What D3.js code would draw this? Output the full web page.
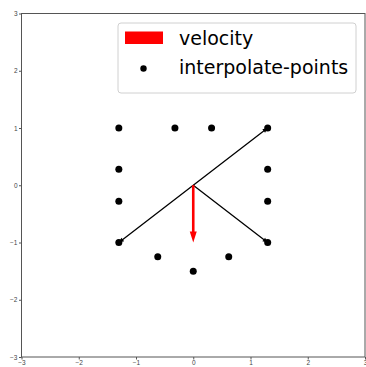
<!DOCTYPE html>
<html>
<head>
<meta charset="utf-8">
<script src="https://cdn.jsdelivr.net/npm/d3@7"></script>
<style>
  body { margin: 0; background: #fff; }
  svg { display: block; font-family: "DejaVu Sans", sans-serif; }
</style>
</head>
<body>
<div id="chart"></div>
<script>
// interpolated points
var pointX = [-1.3, -0.32, 0.32, 1.3, -1.3, 1.3, -1.3, 1.3, -1.3, 1.3, -0.62, 0.62, 0];
var pointY = [1, 1, 1, 1, 0.28, 0.28, -0.28, -0.28, -1, -1, -1.25, -1.25, -1.5];

// black arrows from origin
var arrowX = [-1.3, 1.3, 1.3];
var arrowY = [-1, 1, -1];

// velocity vector
var velocity = [0, -1];

var ticks = [-3, -2, -1, 0, 1, 2, 3];
var legendLabels = ["velocity", "interpolate-points"];

var width = 366, height = 367;
var margin = {top: 13.5, right: 1, bottom: 10, left: 21.5};

var svg = d3.select("#chart").append("svg")
  .attr("width", width)
  .attr("height", height);

var x = d3.scaleLinear().domain([-3, 3]).range([margin.left, width - margin.right]);
var y = d3.scaleLinear().domain([-3, 3]).range([height - margin.bottom, margin.top]);

// axes
var xAxis = svg.append("g")
  .attr("transform", "translate(0," + y(-3) + ")")
  .call(d3.axisBottom(x).tickValues(ticks).tickSize(2.5).tickPadding(1).tickFormat(d3.format("d")));
var yAxis = svg.append("g")
  .attr("transform", "translate(" + x(-3) + ",0)")
  .call(d3.axisLeft(y).tickValues(ticks).tickSize(2.5).tickPadding(1.5).tickFormat(d3.format("d")));
[xAxis, yAxis].forEach(function(g) {
  g.selectAll("text").style("font-size", "6.5px").attr("fill", "#444");
  g.selectAll("line").attr("stroke", "#555");
  g.select(".domain").remove();
});

// frame
svg.append("rect")
  .attr("x", x(-3)).attr("y", y(3))
  .attr("width", x(3) - x(-3)).attr("height", y(-3) - y(3))
  .attr("fill", "none").attr("stroke", "#555").attr("stroke-width", 1);

// arrowhead helper: polygon for a vector from (x0,y0) to (x1,y1) in pixels
function arrowPath(x0, y0, x1, y1, shaftW, headW, headL) {
  var dx = x1 - x0, dy = y1 - y0;
  var len = Math.sqrt(dx * dx + dy * dy);
  var ux = dx / len, uy = dy / len;
  var nx = -uy, ny = ux;
  var bx = x1 - ux * headL, by = y1 - uy * headL;
  var pts = [
    [x0 + nx * shaftW / 2, y0 + ny * shaftW / 2],
    [bx + nx * shaftW / 2, by + ny * shaftW / 2],
    [bx + nx * headW / 2, by + ny * headW / 2],
    [x1, y1],
    [bx - nx * headW / 2, by - ny * headW / 2],
    [bx - nx * shaftW / 2, by - ny * shaftW / 2],
    [x0 - nx * shaftW / 2, y0 - ny * shaftW / 2]
  ];
  return "M" + pts.map(function(p) { return p.join(","); }).join("L") + "Z";
}

// points
svg.selectAll(".pt")
  .data(pointX)
  .enter()
  .append("circle")
  .attr("class", "pt")
  .attr("cx", function(d) { return x(d); })
  .attr("cy", function(d, i) { return y(pointY[i]); })
  .attr("r", 3.5)
  .attr("fill", "#000");

// black arrows
svg.selectAll(".arr")
  .data(arrowX)
  .enter()
  .append("path")
  .attr("class", "arr")
  .attr("d", function(d, i) {
    return arrowPath(x(0), y(0), x(d), y(arrowY[i]), 1.3, 4.5, 5);
  })
  .attr("fill", "#000");

// velocity arrow
svg.append("path")
  .attr("d", arrowPath(x(0), y(0), x(velocity[0]), y(velocity[1]), 2.6, 7, 11))
  .attr("fill", "red");

// legend
var legend = svg.append("g");
legend.append("rect")
  .attr("x", 118).attr("y", 23)
  .attr("width", 238).attr("height", 70)
  .attr("rx", 3)
  .attr("fill", "#fff").attr("fill-opacity", 0.8)
  .attr("stroke", "#d0d0d0").attr("stroke-width", 1);
legend.append("rect")
  .attr("x", 125).attr("y", 31.5)
  .attr("width", 38).attr("height", 12.5)
  .attr("fill", "red");
legend.append("circle")
  .attr("cx", 143.5).attr("cy", 68.5)
  .attr("r", 3.2)
  .attr("fill", "#000");
legend.selectAll(".lt")
  .data(legendLabels)
  .enter()
  .append("text")
  .attr("class", "lt")
  .attr("x", 179)
  .attr("y", function(d, i) { return 38 + i * 29; })
  .attr("dy", "0.35em")
  .style("font-size", "19px")
  .attr("fill", "#000")
  .text(function(d) { return d; });
</script>
</body>
</html>
